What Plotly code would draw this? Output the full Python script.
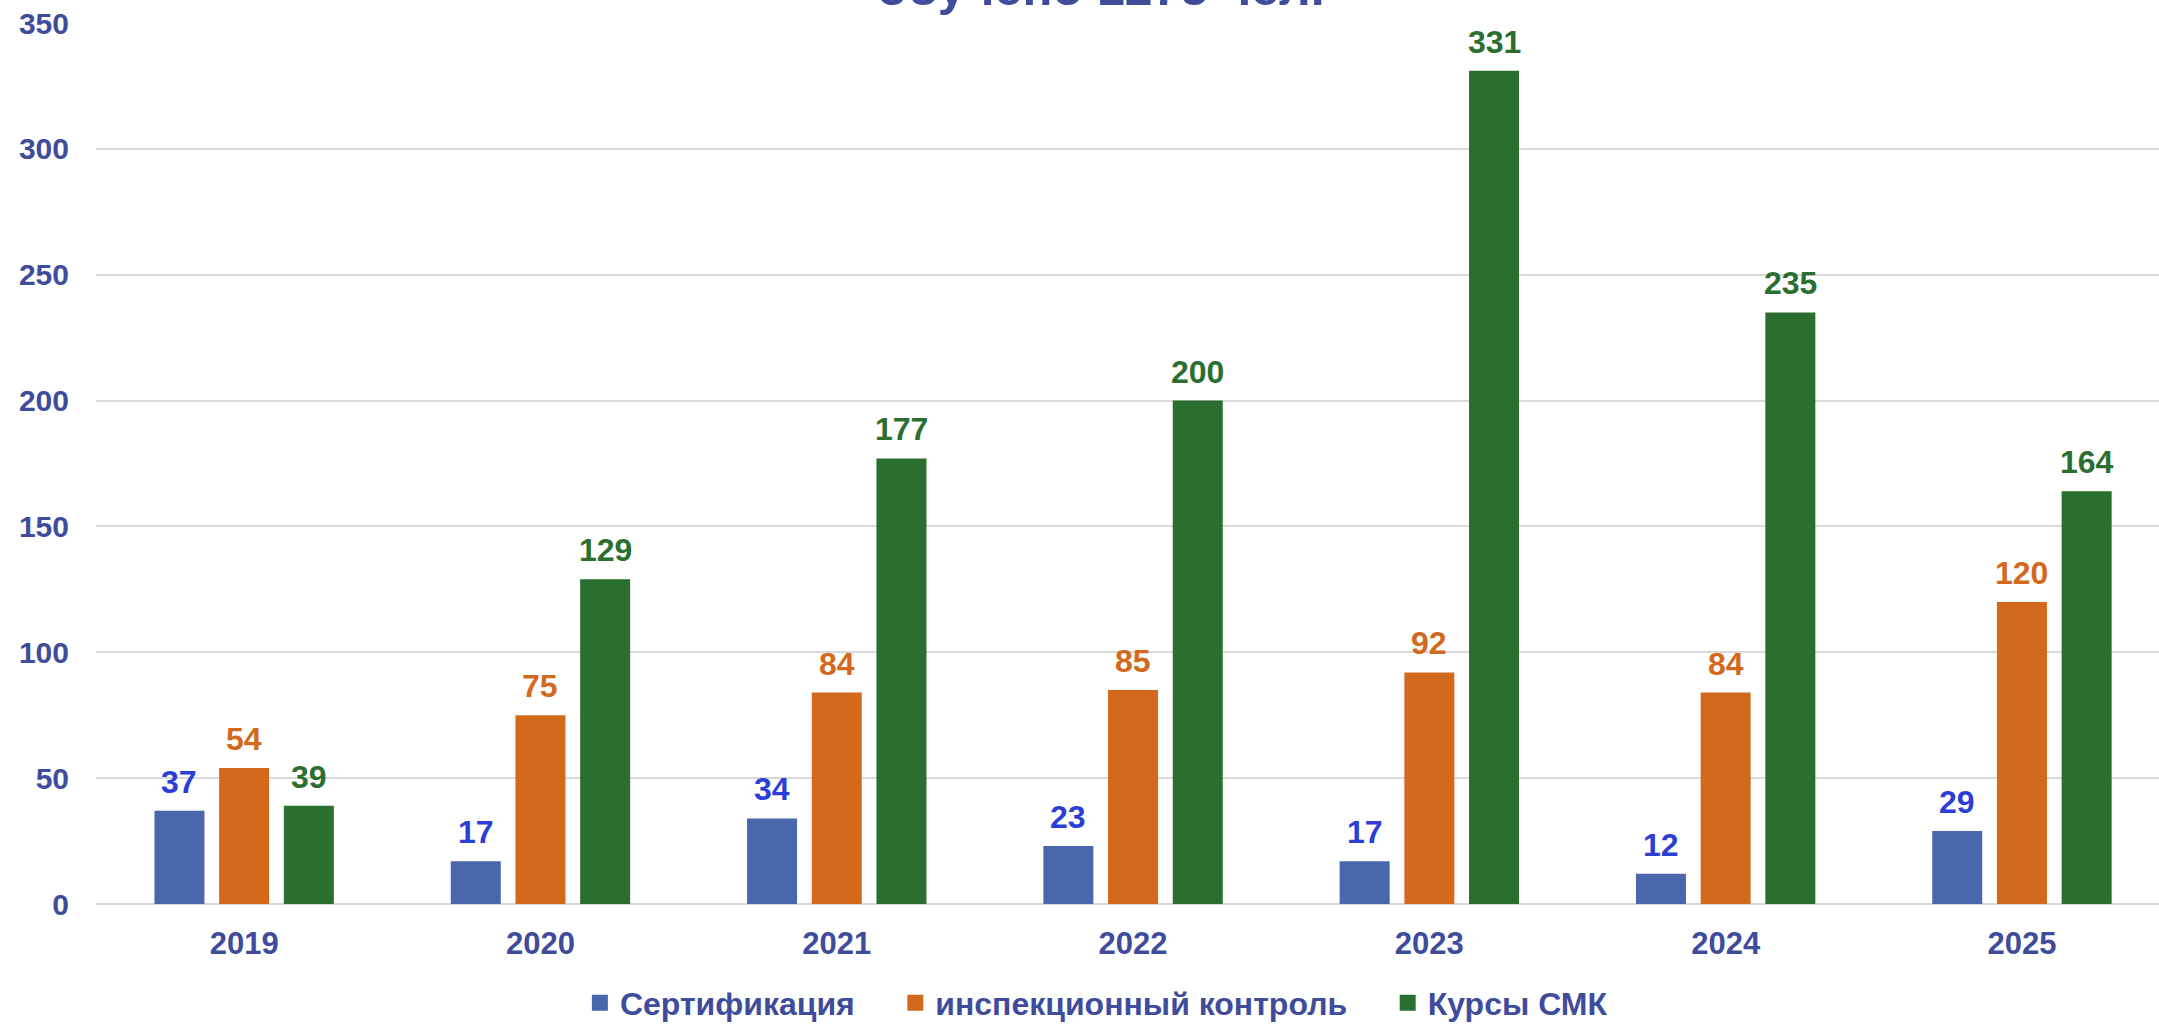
import plotly.graph_objects as go

years = ["2019", "2020", "2021", "2022", "2023", "2024", "2025"]
cert = [37, 17, 34, 23, 17, 12, 29]
insp = [54, 75, 84, 85, 92, 84, 120]
smk = [39, 129, 177, 200, 331, 235, 164]
series_names = ["Сертификация", "инспекционный контроль", "Курсы СМК"]
title_text = "обучено 1275 чел."
y_ticks = [0, 50, 100, 150, 200, 250, 300, 350]

bar_colors = ["#4a67ae", "#d2691c", "#2a6f2f"]
label_colors = ["#2b3fd6", "#d2691c", "#2a6f2f"]
axis_color = "#3f4c9c"
FONT = "Liberation Sans, Arial, sans-serif"

W, H = 2159, 1024
ML, MR, MT, MB = 96, 0, 23, 120
cat_px = 296.3
plot_w = W - ML - MR
plot_h = H - MT - MB
x_max = -0.5 + plot_w / cat_px

fig = go.Figure()
all_series = [cert, insp, smk]
for name, vals, col in zip(series_names, all_series, bar_colors):
    fig.add_trace(go.Bar(x=years, y=vals, name=name, showlegend=False,
                         marker=dict(color=col, line=dict(width=0))))
# legend entries (square markers)
for name, col in zip(series_names, bar_colors):
    fig.add_trace(go.Scatter(x=[None], y=[None], mode="markers", name=name + "\u00a0" * 4,
                             marker=dict(symbol="square", size=16, color=col)))

bargap = 0.345
bargroupgap = 0.227
slot_px = cat_px * (1 - bargap) / 3
annotations = []
for i, (vals, lc) in enumerate(zip(all_series, label_colors)):
    for k, v in enumerate(vals):
        annotations.append(dict(
            x=k, y=v, xref="x", yref="y", text=str(v), showarrow=False,
            xshift=(i - 1) * slot_px, yanchor="bottom", yshift=9,
            font=dict(family=FONT, size=32, color=lc, weight="bold"),
        ))

annotations.append(dict(
    x=0.4872, xref="paper", y=1 + 10 / plot_h, yref="paper", yanchor="bottom",
    text=title_text, showarrow=False, yshift=-5,
    font=dict(family=FONT, size=50, color=axis_color, weight="bold"),
))

fig.update_layout(
    width=W, height=H,
    margin=dict(l=ML, r=MR, t=MT, b=MB, pad=0, autoexpand=False),
    paper_bgcolor="white", plot_bgcolor="rgba(0,0,0,0)",
    barmode="group", bargap=bargap, bargroupgap=bargroupgap,
    showlegend=True,
    legend=dict(orientation="h", x=0.4934, xanchor="center",
                yref="container", y=1 - 1003 / H, yanchor="middle",
                font=dict(family=FONT, size=32, color=axis_color, weight="bold"),
                bgcolor="rgba(0,0,0,0)", traceorder="normal"),
    annotations=annotations,
    xaxis=dict(type="category", range=[-0.5, x_max], showgrid=False, showline=False, zeroline=False,
               ticks="", ticklabelstandoff=18,
               tickfont=dict(family=FONT, size=31, color=axis_color, weight="bold")),
    yaxis=dict(range=[0, 350], tickvals=y_ticks, showgrid=True, gridcolor="#d9d9d9", gridwidth=2,
               zeroline=True, zerolinecolor="#d9d9d9", zerolinewidth=2, showline=False,
               ticks="", ticklabelstandoff=26,
               tickfont=dict(family=FONT, size=30, color=axis_color, weight="bold")),
)

fig.write_html("out.html")
